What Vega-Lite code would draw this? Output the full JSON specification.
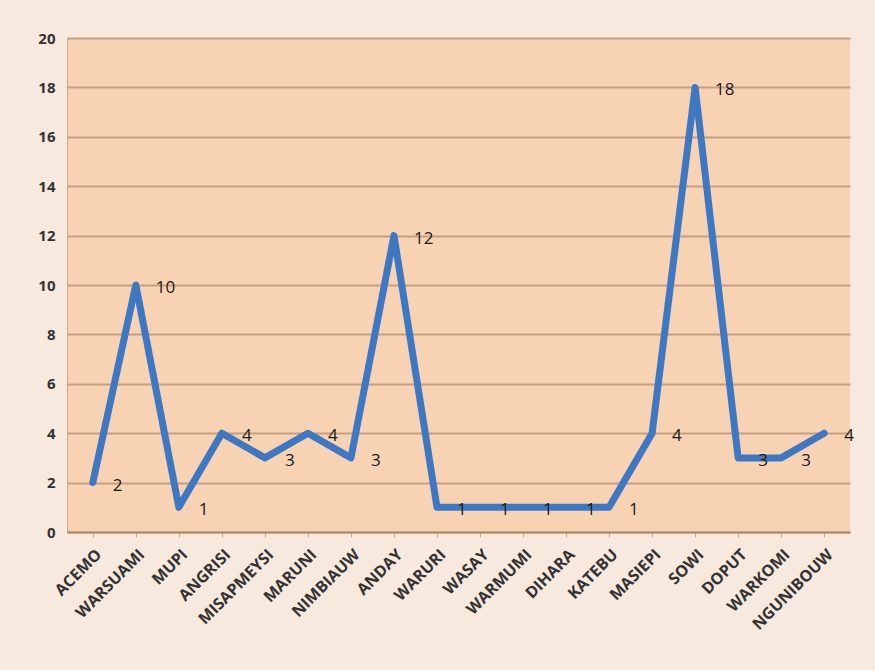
{
  "$schema": "https://vega.github.io/schema/vega-lite/v6.json",
  "width": 783,
  "height": 494,
  "autosize": {"type": "none"},
  "padding": {"left": 67, "top": 38, "right": 25, "bottom": 138},
  "background": "#f8e9de",
  "config": {
    "view": {"fill": "#f7d2b3", "stroke": null},
    "font": "Open Sans"
  },
  "data": {
    "values": [
      {"kampung": "ACEMO", "nilai": 2},
      {"kampung": "WARSUAMI", "nilai": 10},
      {"kampung": "MUPI", "nilai": 1},
      {"kampung": "ANGRISI", "nilai": 4},
      {"kampung": "MISAPMEYSI", "nilai": 3},
      {"kampung": "MARUNI", "nilai": 4},
      {"kampung": "NIMBIAUW", "nilai": 3},
      {"kampung": "ANDAY", "nilai": 12},
      {"kampung": "WARURI", "nilai": 1},
      {"kampung": "WASAY", "nilai": 1},
      {"kampung": "WARMUMI", "nilai": 1},
      {"kampung": "DIHARA", "nilai": 1},
      {"kampung": "KATEBU", "nilai": 1},
      {"kampung": "MASIEPI", "nilai": 4},
      {"kampung": "SOWI", "nilai": 18},
      {"kampung": "DOPUT", "nilai": 3},
      {"kampung": "WARKOMI", "nilai": 3},
      {"kampung": "NGUNIBOUW", "nilai": 4}
    ]
  },
  "encoding": {
    "x": {
      "field": "kampung",
      "type": "nominal",
      "sort": null,
      "scale": {"type": "point", "padding": 0.6},
      "axis": {
        "title": null,
        "labelAngle": -45,
        "labelFontSize": 16,
        "labelFontWeight": "bold",
        "labelColor": "#333333",
        "labelPadding": 9,
        "labelOverlap": false,
        "domainColor": "#b08a6a",
        "domainWidth": 2,
        "tickColor": "#c9a98e",
        "tickSize": 5,
        "grid": false
      }
    },
    "y": {
      "field": "nilai",
      "type": "quantitative",
      "scale": {"domain": [0, 20], "nice": false},
      "axis": {
        "title": null,
        "values": [0, 2, 4, 6, 8, 10, 12, 14, 16, 18, 20],
        "labelFontSize": 15,
        "labelFontWeight": "bold",
        "labelColor": "#333333",
        "labelPadding": 12,
        "ticks": false,
        "domainColor": "#c9a98e",
        "gridColor": "#b89274",
        "gridWidth": 2,
        "gridOpacity": 0.8
      }
    }
  },
  "layer": [
    {
      "mark": {"type": "line", "color": "#3f78c2", "strokeWidth": 7, "strokeJoin": "round", "strokeCap": "round"}
    },
    {
      "mark": {"type": "text", "align": "left", "dx": 20, "dy": 3, "fontSize": 17, "color": "#1a1a1a"},
      "encoding": {"text": {"field": "nilai", "type": "quantitative"}}
    }
  ]
}
